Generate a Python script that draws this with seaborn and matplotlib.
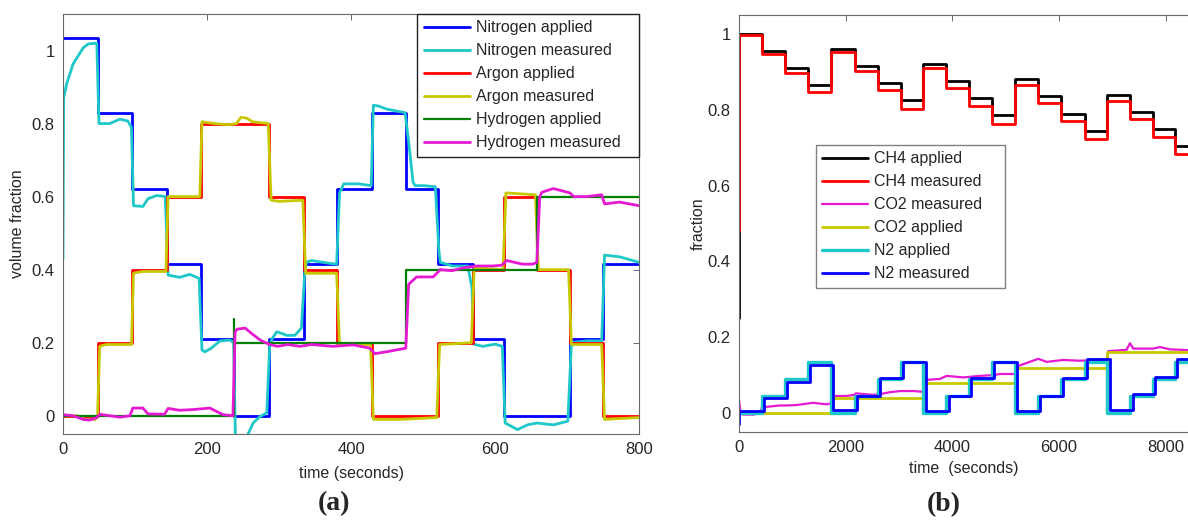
import matplotlib
matplotlib.use('Agg')
import matplotlib.pyplot as plt
import seaborn as sns

# ---------------- panel (a): gas mixture steps, 0..800 s ----------------
step_t_a = [0, 48, 96, 144, 191, 237, 286, 334, 381, 429, 476, 521, 569, 613, 658, 704, 750, 800]
nitrogen_applied = [1.035, 0.83, 0.62, 0.415, 0.21, 0.0, 0.21, 0.415, 0.62, 0.83,
                    0.62, 0.415, 0.21, 0.0, 0.0, 0.21, 0.415]
argon_applied = [0, 0.2, 0.4, 0.6, 0.8, 0.8, 0.6, 0.4, 0.2, 0, 0, 0.2, 0.4, 0.6, 0.4, 0.2, 0]
hydrogen_applied = [0, 0, 0, 0, 0, 0.2, 0.2, 0.2, 0.2, 0.2, 0.4, 0.4, 0.4, 0.4, 0.6, 0.6, 0.6]
nitrogen_start_t = [0, 3]
nitrogen_start_v = [1.12, 1.12]
hydrogen_spike_t = [237, 237]
hydrogen_spike_v = [0.2, 0.265]

nitrogen_meas_t = [0, 1, 5, 14, 28, 35, 47, 50, 65, 79, 90, 95, 98, 111, 118, 130, 142, 146,
                   162, 176, 189, 193, 197, 206, 218, 232, 237, 240, 250, 257, 264, 273, 283,
                   287, 290, 297, 311, 322, 331, 336, 338, 345, 371, 380, 384, 390, 410, 428,
                   431, 438, 449, 461, 475, 480, 486, 489, 501, 517, 522, 524, 541, 562, 568,
                   570, 583, 600, 610, 614, 631, 645, 658, 681, 701, 706, 727, 748, 752, 773, 800]
nitrogen_meas_v = [0.43, 0.87, 0.908, 0.963, 1.007, 1.018, 1.02, 0.80, 0.80, 0.812, 0.807, 0.79,
                   0.575, 0.573, 0.594, 0.603, 0.60, 0.385, 0.379, 0.387, 0.376, 0.18, 0.175,
                   0.185, 0.205, 0.207, 0.2, -0.12, -0.1, -0.05, -0.02, -0.003, 0.008, 0.19,
                   0.21, 0.23, 0.22, 0.22, 0.24, 0.40, 0.42, 0.425, 0.417, 0.415, 0.61, 0.635,
                   0.635, 0.63, 0.85, 0.848, 0.84, 0.835, 0.83, 0.75, 0.64, 0.63, 0.63, 0.627,
                   0.45, 0.42, 0.41, 0.41, 0.35, 0.196, 0.19, 0.196, 0.19, -0.02, -0.038,
                   -0.025, -0.02, -0.025, -0.015, 0.2, 0.205, 0.205, 0.44, 0.435, 0.42]

argon_meas_t = [0, 20, 30, 45, 48, 51, 60, 95, 98, 110, 143, 146, 190, 193, 210, 230, 241, 247,
                255, 263, 285, 289, 300, 333, 337, 380, 384, 427, 431, 470, 519, 523, 567, 571,
                611, 615, 656, 660, 702, 706, 748, 752, 800]
argon_meas_v = [0.0, 0.0, -0.01, -0.01, 0.0, 0.19, 0.195, 0.195, 0.39, 0.395, 0.395, 0.60, 0.60,
                0.805, 0.80, 0.797, 0.80, 0.817, 0.815, 0.805, 0.80, 0.59, 0.587, 0.59, 0.39,
                0.39, 0.195, 0.195, -0.01, -0.01, -0.005, 0.195, 0.2, 0.405, 0.40, 0.61, 0.605,
                0.40, 0.40, 0.195, 0.195, -0.01, -0.005]

hydrogen_meas_t = [0, 14, 28, 37, 47, 51, 65, 79, 93, 97, 111, 118, 141, 146, 162, 181, 204, 213,
                   222, 236, 239, 242, 253, 262, 274, 287, 298, 312, 329, 345, 375, 403, 426,
                   433, 449, 476, 480, 491, 514, 524, 540, 556, 574, 597, 609, 616, 638, 652,
                   658, 662, 665, 681, 704, 709, 727, 748, 752, 773, 800]
hydrogen_meas_v = [0.003, 0.0, -0.01, -0.012, -0.005, 0.004, 0.0, -0.004, 0.0, 0.021, 0.021,
                   0.005, 0.004, 0.02, 0.015, 0.017, 0.021, 0.012, 0.003, 0.0, 0.23, 0.237,
                   0.24, 0.225, 0.207, 0.195, 0.19, 0.195, 0.19, 0.195, 0.19, 0.194, 0.185,
                   0.17, 0.175, 0.185, 0.36, 0.38, 0.38, 0.4, 0.397, 0.405, 0.41, 0.41, 0.412,
                   0.425, 0.415, 0.415, 0.42, 0.60, 0.612, 0.622, 0.61, 0.6, 0.60, 0.605, 0.58,
                   0.585, 0.575]

# ---------------- panel (b): biogas steps, 0..8400 s ----------------
step_t_b = [0, 430, 870, 1300, 1730, 2170, 2600, 3040, 3460, 3890, 4320, 4750, 5180,
            5610, 6040, 6480, 6910, 7340, 7760, 8180, 8420]
ch4_applied = [1.0, 0.955, 0.91, 0.865, 0.96, 0.915, 0.87, 0.825, 0.92, 0.875, 0.83, 0.785,
               0.88, 0.835, 0.79, 0.745, 0.84, 0.795, 0.75, 0.705]
ch4_measured = [0.997, 0.947, 0.898, 0.847, 0.951, 0.901, 0.852, 0.803, 0.909, 0.857, 0.81,
                0.762, 0.866, 0.817, 0.769, 0.723, 0.824, 0.776, 0.729, 0.683]
co2_applied = [0, 0, 0, 0, 0.04, 0.04, 0.04, 0.04, 0.08, 0.08, 0.08, 0.08,
               0.12, 0.12, 0.12, 0.12, 0.16, 0.16, 0.16, 0.16]
n2_applied = [0, 0.045, 0.09, 0.135, 0, 0.045, 0.09, 0.135, 0, 0.045, 0.09, 0.135,
              0, 0.045, 0.09, 0.135, 0, 0.045, 0.09, 0.135]
n2_measured = [0.005, 0.04, 0.082, 0.126, 0.008, 0.045, 0.092, 0.135, 0.005, 0.045, 0.092,
               0.134, 0.005, 0.045, 0.093, 0.142, 0.008, 0.049, 0.096, 0.143]
ch4_applied_start = 0.25
ch4_measured_start = 0.48
n2_measured_start = -0.03
n2_lag = 40

co2_meas_t = [0, 30, 75, 290, 415, 430, 763, 888, 1075, 1388, 1638, 1720, 1740, 2013, 2170,
              2190, 2519, 2644, 2831, 3019, 3269, 3450, 3470, 3769, 3894, 4206, 4519, 4769,
              4894, 5144, 5175, 5195, 5613, 5769, 6081, 6394, 6769, 6900, 6925, 7269, 7331,
              7394, 7769, 7894, 8081, 8420]
co2_meas_v = [0.035, 0.0, -0.004, -0.004, 0.005, 0.015, 0.02, 0.02, 0.021, 0.027, 0.023,
              0.025, 0.045, 0.045, 0.048, 0.052, 0.048, 0.05, 0.055, 0.058, 0.058, 0.056,
              0.087, 0.09, 0.098, 0.094, 0.098, 0.1, 0.103, 0.103, 0.103, 0.122, 0.143,
              0.135, 0.14, 0.138, 0.14, 0.14, 0.163, 0.167, 0.184, 0.17, 0.17, 0.174,
              0.168, 0.166]

BLUE, CYAN, RED = '#0000ff', '#1ec8c8', '#ff0000'
OLIVE, GREEN, MAGENTA = '#c8c800', '#008000', '#e619d2'
FS = 11.5


def step_xy(times, levels):
    # steps-post: last level repeated at the end time
    return list(times), list(levels) + [levels[-1]]


def step_line(ax, times, levels, color, label=None, lw=2.0):
    x, y = step_xy(times, levels)
    sns.lineplot(x=x, y=y, ax=ax, color=color, lw=lw, label=label,
                 estimator=None, sort=False, drawstyle='steps-post')


def curve(ax, x, y, color, label=None, lw=2.0):
    sns.lineplot(x=x, y=y, ax=ax, color=color, lw=lw, label=label,
                 estimator=None, sort=False)


sns.set_style('white')
plt.rcParams['font.family'] = ['Liberation Sans', 'DejaVu Sans']

fig = plt.figure(figsize=(11.88, 5.22), dpi=100)
ax1 = fig.add_axes([0.053, 0.1686, 0.485, 0.8046])
ax2 = fig.add_axes([0.622, 0.1724, 0.378, 0.799])

# panel (a)
curve(ax1, nitrogen_start_t, nitrogen_start_v, BLUE)
step_line(ax1, step_t_a, nitrogen_applied, BLUE, 'Nitrogen applied')
curve(ax1, nitrogen_meas_t, nitrogen_meas_v, CYAN, 'Nitrogen measured')
step_line(ax1, step_t_a, argon_applied, RED, 'Argon applied')
curve(ax1, argon_meas_t, argon_meas_v, OLIVE, 'Argon measured')
step_line(ax1, step_t_a, hydrogen_applied, GREEN, 'Hydrogen applied', lw=1.6)
curve(ax1, hydrogen_spike_t, hydrogen_spike_v, GREEN, lw=1.6)
curve(ax1, hydrogen_meas_t, hydrogen_meas_v, MAGENTA, 'Hydrogen measured')

ax1.set_xlim(0, 800)
ax1.set_ylim(-0.05, 1.1)
ax1.set_xticks([0, 200, 400, 600, 800])
ax1.set_yticks([0, 0.2, 0.4, 0.6, 0.8, 1.0])
ax1.set_yticklabels(['0', '0.2', '0.4', '0.6', '0.8', '1'])
ax1.set_xlabel('time (seconds)', fontsize=FS, labelpad=6)
ax1.set_ylabel('volume fraction', fontsize=FS, labelpad=5)
ax1.legend(loc='upper left', bbox_to_anchor=(0.615, 0.657, 0.385, 0.343), mode='expand',
           borderaxespad=0, fontsize=FS, frameon=True, fancybox=False, framealpha=1,
           edgecolor='#222222', handlelength=2.9, handletextpad=0.35,
           labelspacing=0.5, borderpad=0.4)

# panel (b)
bx, by = step_xy(step_t_b, ch4_applied)
sns.lineplot(x=[0] + bx, y=[ch4_applied_start] + by, ax=ax2, color='black', lw=2.0,
             label='CH4 applied', estimator=None, sort=False, drawstyle='steps-post')
mx, my = step_xy(step_t_b, ch4_measured)
sns.lineplot(x=[0] + mx, y=[ch4_measured_start] + my, ax=ax2, color=RED, lw=2.0,
             label='CH4 measured', estimator=None, sort=False, drawstyle='steps-post')
curve(ax2, co2_meas_t, co2_meas_v, MAGENTA, 'CO2 measured', lw=1.6)
step_line(ax2, step_t_b, co2_applied, OLIVE, 'CO2 applied')
step_line(ax2, step_t_b, n2_applied, CYAN, 'N2 applied', lw=2.4)
lag_t = [0] + [t + n2_lag for t in step_t_b[1:-1]] + [step_t_b[-1]]
nx, ny = step_xy(lag_t, n2_measured)
sns.lineplot(x=[0] + nx, y=[n2_measured_start] + ny, ax=ax2, color=BLUE, lw=2.0,
             label='N2 measured', estimator=None, sort=False, drawstyle='steps-post')

ax2.set_xlim(0, 8420)
ax2.set_ylim(-0.05, 1.05)
ax2.set_xticks([0, 2000, 4000, 6000, 8000])
ax2.set_yticks([0, 0.2, 0.4, 0.6, 0.8, 1.0])
ax2.set_yticklabels(['0', '0.2', '0.4', '0.6', '0.8', '1'])
ax2.set_xlabel('time  (seconds)', fontsize=FS, labelpad=4)
ax2.set_ylabel('fraction', fontsize=FS, labelpad=1)
ax2.legend(loc='upper left', bbox_to_anchor=(0.171, 0.343, 0.421, 0.345), mode='expand',
           borderaxespad=0, fontsize=FS, frameon=True, fancybox=False, framealpha=1,
           edgecolor='#808080', handlelength=2.9, handletextpad=0.35,
           labelspacing=0.5, borderpad=0.4)
ax2.spines['right'].set_visible(False)

for ax in (ax1, ax2):
    for s in ax.spines.values():
        s.set_color('#6a6a6a')
        s.set_linewidth(0.8)
    ax.tick_params(direction='in', length=4, width=0.7, color='#6a6a6a',
                   top=True, right=(ax is ax1), labelsize=12, pad=6)

fig.text(0.281, 0.036, '(a)', fontsize=20, fontweight='bold', ha='center', va='center',
         family=['Liberation Serif', 'DejaVu Serif'])
fig.text(0.794, 0.033, '(b)', fontsize=20, fontweight='bold', ha='center', va='center',
         family=['Liberation Serif', 'DejaVu Serif'])

fig.savefig('out.png', dpi=100)
